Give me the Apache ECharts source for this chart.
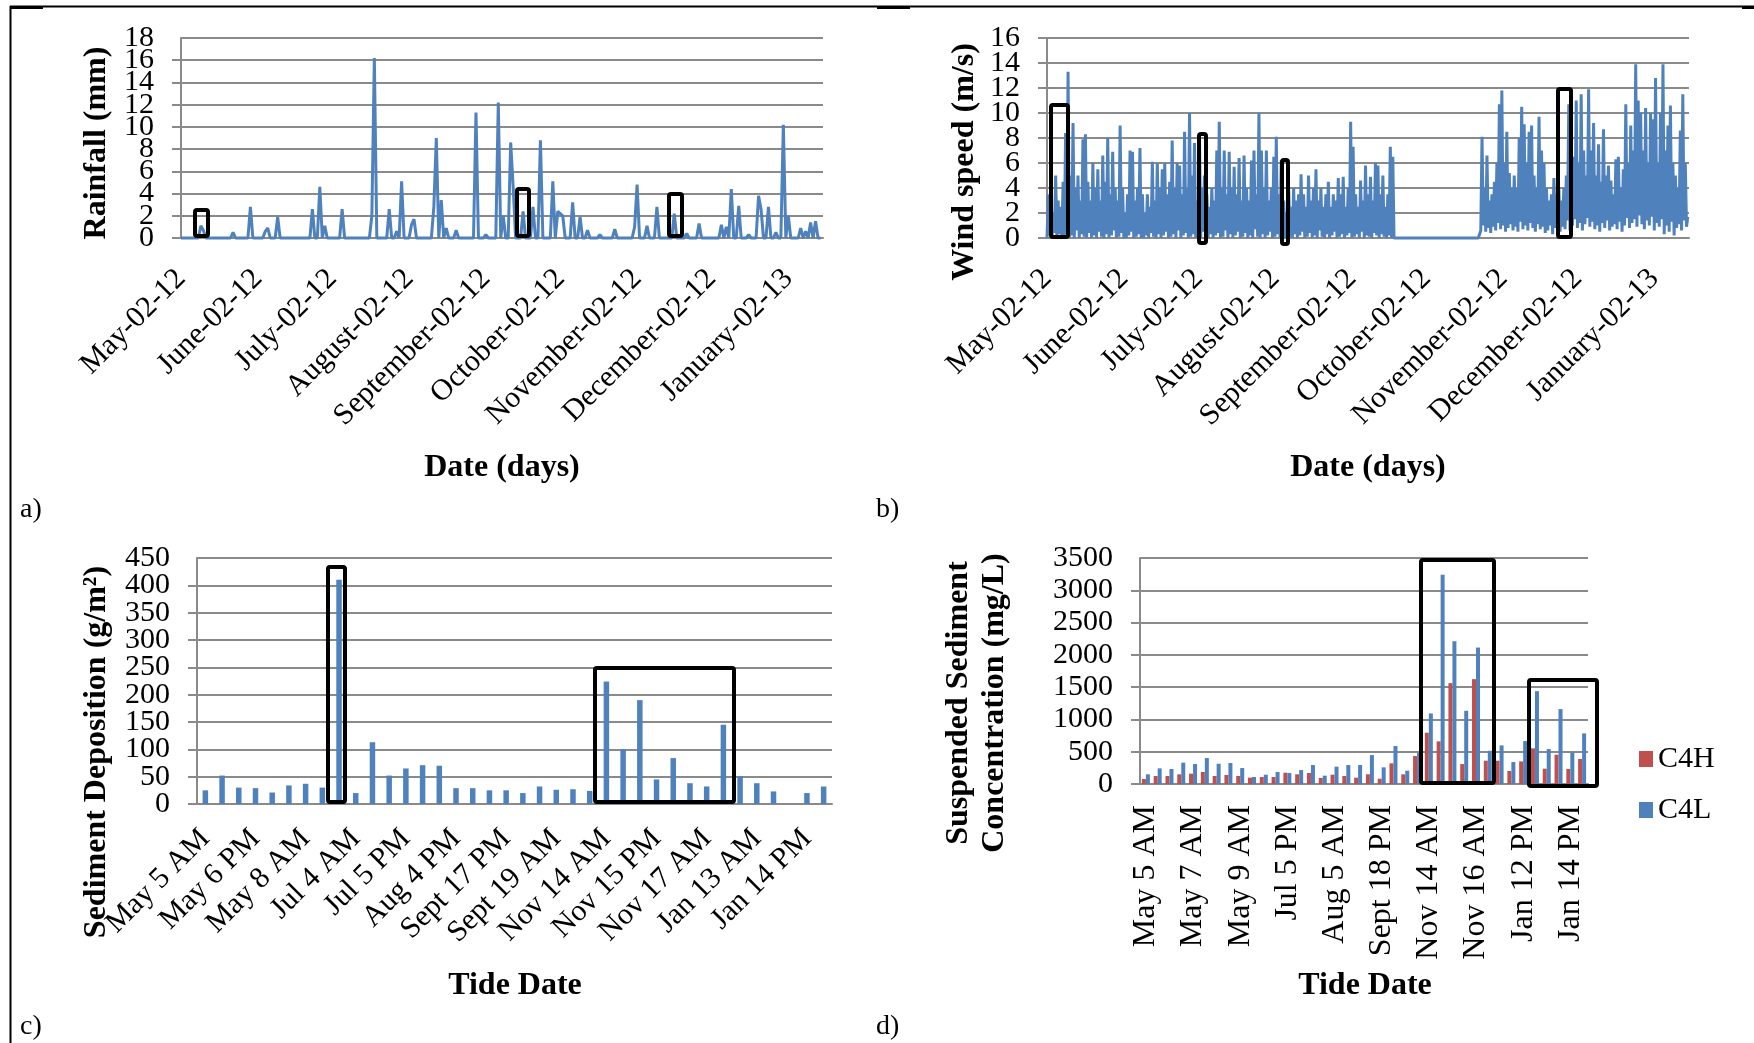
<!DOCTYPE html>
<html>
<head>
<meta charset="utf-8">
<script src="https://cdn.jsdelivr.net/npm/echarts@6/dist/echarts.min.js"></script>
<style>
  html, body { margin: 0; padding: 0; background: #fff; }
  #main { width: 1754px; height: 1043px; }
</style>
</head>
<body>
<div id="main"></div>
<script>
// panel a: daily rainfall, days counted from May-02-12
const DAYS = 259;
const monthTicks = [0, 31, 61, 92, 123, 153, 184, 214, 245];
const monthNames = ['May-02-12', 'June-02-12', 'July-02-12', 'August-02-12', 'September-02-12',
  'October-02-12', 'November-02-12', 'December-02-12', 'January-02-13'];

const rainDays = [8, 9, 21, 28, 34, 35, 39, 53, 56, 58, 65, 77, 78, 84, 87, 89, 93, 94, 102, 103,
  105, 107, 111, 119, 123, 128, 130, 133, 134, 138, 142, 145, 150, 152, 153, 154, 158, 161, 164, 169,
  175, 183, 184, 188, 192, 199, 204, 209, 218, 220, 222, 225, 229, 233, 234, 237, 240, 243, 245, 250,
  252, 254, 256];
const rainMm = [1.1, 0.7, 0.5, 2.8, 0.6, 0.9, 1.9, 2.6, 4.6, 1.1, 2.6, 2.0, 16.2, 2.6, 0.6, 5.1, 1.2, 1.7, 2.8, 9.0,
  3.4, 0.9, 0.7, 11.3, 0.3, 12.2, 2.0, 8.6, 4.6, 2.4, 2.8, 8.8, 5.1, 2.4, 2.2, 2.0, 3.2, 1.9, 0.7, 0.3,
  0.8, 1.0, 4.8, 1.1, 2.8, 2.2, 0.4, 1.3, 1.2, 1.0, 4.4, 2.9, 0.3, 3.8, 2.6, 2.8, 0.5, 10.2, 2.0, 0.9,
  0.6, 1.4, 1.5];

// panel b: daily highest and lowest wind speed (m/s)
const windHi = [
  3.5, 4, 2, 5.0, 3, 2.5, 4.5, 8.4, 13.3, 5,
  9.2, 4, 5, 3, 7.9, 8.3, 4.5, 3, 6, 4,
  5.5, 3, 6.6, 4.5, 8.0, 3.5, 6.9, 4, 3, 9.0,
  4, 2, 3.5, 7.0, 6.9, 3, 4, 7.2, 3.5, 2,
  3.5, 2.5, 6.1, 3, 6, 4, 5.5, 6.0, 3.5, 4.5,
  7.8, 4, 6, 5.8, 3.5, 8.5, 4, 10.0, 5, 7.6,
  3, 8.3, 4, 5, 3.5, 2.5, 4, 3, 7.0, 9.3,
  4, 7.0, 3.5, 6.9, 4, 5.7, 3.5, 6.4, 3, 6.6,
  4, 3, 6.2, 7.0, 3.5, 10.0, 7.0, 4, 7.0, 3,
  4, 6.5, 8.1, 3.5, 6.2, 3, 2, 4, 2.5, 4,
  3, 3.5, 5.1, 3.5, 2.5, 5, 3, 4, 5.5, 3,
  4, 2.5, 3.5, 4.5, 2.5, 3.5, 3, 4.8, 3.5, 4.9,
  2.5, 4, 9.3, 7.3, 3.5, 2.5, 4.6, 3, 5.8, 3.5,
  4.9, 3, 6.0, 5.8, 3.5, 5, 2.5, 3.5, 7.3, 6.5,
  0, 0, 0, 0, 0, 0, 0, 0, 0, 0,
  0, 0, 0, 0, 0, 0, 0, 0, 0, 0,
  0, 0, 0, 0, 0, 0, 0, 0, 0, 0,
  0, 0, 0, 0, 0, 8.1, 4, 6.6, 3, 3.5,
  4.5, 6.0, 10.7, 11.8, 6, 8.5, 5.2, 4, 5, 4,
  8.0, 10.5, 9.1, 6, 8.5, 9.0, 5, 4, 9.7, 7,
  6, 4, 3, 3.5, 4.8, 3.5, 4, 3, 4, 5,
  10.7, 4.5, 6.5, 11.0, 6, 11.5, 7, 5, 11.9, 7,
  9.2, 5, 7.5, 4.5, 8.7, 5, 5.8, 4.6, 3.5, 6.3,
  6.5, 4, 5.5, 10.7, 6, 9, 7, 13.9, 11.0, 10,
  7, 10.4, 6, 10.0, 9.5, 12.8, 6, 10, 13.9, 7,
  9.0, 10.6, 6, 5, 4, 8.6, 11.5, 6.0, 1.7
];
const windLo = [
  0, 0.2, 0, 0.4, 0, 0.3, 0.1, 0, 0.5, 0,
  0.2, 0, 0.6, 0, 0.3, 0.1, 0, 0.4, 0, 0.2,
  0, 0.5, 0.1, 0, 0.3, 0, 0.2, 0.6, 0, 0.1,
  0.4, 0, 0, 0.2, 0.5, 0, 0.1, 0.3, 0, 0,
  0.2, 0, 0.4, 0.1, 0, 0.3, 0, 0.2, 0.5, 0,
  0.1, 0.3, 0, 0.6, 0, 0.2, 0.4, 0, 0.1, 0.3,
  0, 0.2, 0, 0.5, 0.1, 0, 0.3, 0, 0.2, 0.4,
  0, 0.1, 0.6, 0, 0.3, 0, 0.2, 0.5, 0, 0.1,
  0.4, 0, 0.2, 0, 0.7, 0.1, 0, 0.3, 0, 0.2,
  0.5, 0, 0.1, 0.3, 0, 0.2, 0, 0.4, 0.1, 0,
  0.3, 0, 0.2, 0.5, 0, 0.1, 0.4, 0, 0.2, 0,
  0.6, 0.1, 0, 0.3, 0, 0.2, 0.5, 0, 0.1, 0.3,
  0, 0.2, 0.4, 0, 0.1, 0.3, 0, 0.5, 0, 0.2,
  0.1, 0, 0.4, 0.2, 0, 0.3, 0.1, 0, 0.2, 0,
  0, 0, 0, 0, 0, 0, 0, 0, 0, 0,
  0, 0, 0, 0, 0, 0, 0, 0, 0, 0,
  0, 0, 0, 0, 0, 0, 0, 0, 0, 0,
  0, 0, 0, 0, 0, 0.6, 1.0, 0.5, 0.8, 0.4,
  0.9, 0.6, 1.2, 0.7, 1.0, 0.5, 0.8, 1.1, 0.6, 0.9,
  0.5, 1.3, 0.7, 1.0, 0.6, 1.2, 0.8, 0.5, 1.1, 0.7,
  0.9, 0.4, 0.6, 1.0, 0.3, 0.8, 1.2, 0.5, 0.9, 0.7,
  1.4, 0.6, 1.0, 1.5, 0.8, 1.2, 0.6, 1.1, 1.6, 0.9,
  1.3, 0.7, 1.0, 0.5, 1.2, 0.8, 1.4, 0.6, 0.9, 1.1,
  0.7, 1.3, 0.5, 1.0, 1.6, 0.8, 1.2, 1.5, 0.9, 1.8,
  1.1, 0.7, 1.4, 1.0, 1.7, 0.6, 1.2, 0.9, 1.5, 0.3,
  1.0, 0.5, 1.3, 0.2, 0.8, 1.1, 0.6, 1.4, 0.9
];

// panels c and d: tide samples
const tides = ['May 5 AM', 'May 5 PM', 'May 6 AM', 'May 6 PM', 'May 7 AM', 'May 7 PM', 'May 8 AM', 'May 8 PM',
  'May 9 AM', 'Jul 4 AM', 'Jul 4 PM', 'Jul 5 AM', 'Jul 5 PM', 'Aug 3 PM', 'Aug 4 AM', 'Aug 4 PM',
  'Aug 5 AM', 'Sept 17 AM', 'Sept 17 PM', 'Sept 18 AM', 'Sept 18 PM', 'Sept 19 AM', 'Sept 19 PM', 'Nov 13 PM',
  'Nov 14 AM', 'Nov 14 PM', 'Nov 15 AM', 'Nov 15 PM', 'Nov 16 AM', 'Nov 16 PM', 'Nov 17 AM', 'Nov 17 PM',
  'Jan 12 PM', 'Jan 13 AM', 'Jan 13 PM', 'Jan 14 AM', 'Jan 14 PM', 'Jan 15 AM'];
const deposition = [25, 52, 30, 29, 21, 34, 37, 30, 410, 20, 113, 52, 65, 71, 70, 29, 29, 25, 25, 20,
  32, 26, 27, 24, 224, 100, 190, 45, 84, 38, 32, 145, 51, 38, 23, 0, 20, 32];
const c4h = [77, 124, 124, 150, 160, 186, 124, 139, 124, 98, 108, 108, 175, 150, 170, 93, 144, 124, 98, 150,
  82, 320, 150, 433, 794, 660, 1562, 309, 1624, 361, 361, 201, 350, 552, 237, 454, 232, 387];
const c4l = [150, 242, 232, 330, 309, 402, 314, 325, 247, 108, 144, 186, 170, 216, 294, 129, 268, 294, 294, 448,
  258, 588, 206, 480, 1093, 3242, 2211, 1134, 2113, 515, 598, 340, 665, 1438, 541, 1160, 485, 784];

// y scales: [max, interval] per panel
const yScales = [[18, 2], [16, 2], [450, 50], [3500, 500]];

// black highlight boxes drawn over the figure: [x0, y0, x1, y1] in pixels
const boxes = [
  [193, 208, 210, 238], [515, 187, 531, 238], [667, 192, 684, 238],
  [1049, 103, 1070, 239], [1197, 132, 1208, 245], [1280, 158, 1290, 246], [1556, 87, 1573, 239],
  [326, 565, 347, 804], [593, 666, 736, 804],
  [1419, 558, 1496, 785], [1527, 678, 1599, 788]
];

const BLUE = '#4F81BD';
const RED = '#C0504D';
const GRID = '#8a8a8a';
const FONT = '"Liberation Serif", "Times New Roman", serif';

const rainSeries = [];
for (let i = 0; i < DAYS; i++) rainSeries.push([i, 0]);
rainDays.forEach((d, k) => { rainSeries[d][1] = rainMm[k]; });

const windSeries = [];
windHi.forEach((hi, d) => {
  windSeries.push([d, windLo[d]], [d + 0.5, hi]);
});

const labelStyle = { color: '#000', fontFamily: FONT, fontSize: 30 };

// The tick labels sit closer than their height, so the labels of each panel are split
// over two stacked axes (even and odd steps) to keep ECharts from dropping any of them.
function valueY(gridIndex, max, interval, parity) {
  const maxEven = Math.round(max / interval) % 2 === 0;
  const main = parity === 0;
  return {
    type: 'value', gridIndex, min: 0, max, interval, position: 'left', offset: 0,
    axisLine: { show: main, lineStyle: { color: GRID, width: 2 } },
    axisTick: { show: main, length: 9, lineStyle: { color: GRID, width: 2 } },
    splitLine: { show: main, lineStyle: { color: GRID, width: 2 } },
    axisLabel: Object.assign({
      margin: 27,
      showMinLabel: main,
      showMaxLabel: main ? maxEven : !maxEven,
      hideOverlap: false,
      formatter: (v) => (Math.round(v / interval) % 2 === parity ? String(v) : '')
    }, labelStyle)
  };
}

function dateX(gridIndex) {
  return {
    type: 'value', gridIndex, min: 0, max: DAYS,
    axisLine: { show: true, onZero: false, lineStyle: { color: GRID, width: 2 } },
    axisTick: { show: false },
    splitLine: { show: false },
    axisLabel: Object.assign({
      customValues: monthTicks,
      rotate: 45, margin: 36, hideOverlap: false,
      formatter: (v) => monthNames[monthTicks.indexOf(v)] || ''
    }, labelStyle)
  };
}

function tideX(gridIndex, interval, rotate, margin, size) {
  return {
    type: 'category', gridIndex, data: tides,
    axisLine: { show: true, lineStyle: { color: GRID, width: 2 } },
    axisTick: { show: false },
    axisLabel: Object.assign({ interval, rotate, margin, hideOverlap: false }, labelStyle, { fontSize: size })
  };
}

function title(text, x, y, rotated) {
  return {
    type: 'text', x, y, rotation: rotated ? Math.PI / 2 : 0, z: 10,
    style: {
      text, fill: '#000', fontFamily: FONT, fontSize: 32, fontWeight: 'bold',
      align: 'center', verticalAlign: 'middle', lineHeight: 36
    }
  };
}

function panelTag(text, x, y) {
  return {
    type: 'text', x, y, z: 10,
    style: { text, fill: '#000', fontFamily: FONT, fontSize: 28, align: 'left', verticalAlign: 'middle' }
  };
}

const graphics = [
  title('Rainfall (mm)', 97, 143, true),
  title('Wind speed (m/s)', 965, 162, true),
  title('Sediment Deposition (g/m²)', 97, 752, true),
  title('Suspended Sediment\nConcentration (mg/L)', 977, 703, true),
  title('Date (days)', 502, 468, false),
  title('Date (days)', 1368, 468, false),
  title('Tide Date', 515, 986, false),
  title('Tide Date', 1365, 986, false),
  panelTag('a)', 20, 510),
  panelTag('b)', 876, 510),
  panelTag('c)', 20, 1027),
  panelTag('d)', 876, 1027),
  // table borders
  { type: 'line', shape: { x1: 10.5, y1: 6, x2: 10.5, y2: 1043 }, style: { stroke: '#000', lineWidth: 2 } },
  { type: 'line', shape: { x1: 10, y1: 6.5, x2: 1754, y2: 6.5 }, style: { stroke: '#000', lineWidth: 2 } },
  { type: 'line', shape: { x1: 10, y1: 7.5, x2: 43, y2: 7.5 }, style: { stroke: '#000', lineWidth: 3 } },
  { type: 'line', shape: { x1: 877, y1: 7.5, x2: 910, y2: 7.5 }, style: { stroke: '#000', lineWidth: 3 } },
  { type: 'line', shape: { x1: 1742, y1: 7.5, x2: 1754, y2: 7.5 }, style: { stroke: '#000', lineWidth: 3 } }
];
boxes.forEach(([x0, y0, x1, y1]) => {
  graphics.push({
    type: 'rect', z: 20,
    shape: { x: x0 + 2, y: y0 + 2, width: x1 - x0 - 4, height: y1 - y0 - 4, r: 2 },
    style: { fill: 'none', stroke: '#000', lineWidth: 4 }
  });
});

const yAxes = [];
[0, 1].forEach((parity) => {
  yScales.forEach(([max, interval], g) => yAxes.push(valueY(g, max, interval, parity)));
});

const option = {
  backgroundColor: '#fff',
  animation: false,
  grid: [
    { left: 181, top: 38, width: 642, height: 200, containLabel: false, outerBoundsMode: 'none' },
    { left: 1047, top: 38, width: 642, height: 200, containLabel: false, outerBoundsMode: 'none' },
    { left: 197, top: 558, width: 635, height: 246, containLabel: false, outerBoundsMode: 'none' },
    { left: 1140, top: 558, width: 448, height: 226, containLabel: false, outerBoundsMode: 'none' }
  ],
  xAxis: [
    dateX(0),
    dateX(1),
    tideX(2, 2, 45, 30, 30),
    tideX(3, 3, 90, 21, 32)
  ],
  yAxis: yAxes,
  legend: {
    data: ['C4H', 'C4L'],
    orient: 'vertical',
    left: 1634, top: 739,
    icon: 'rect', itemWidth: 14, itemHeight: 16, itemGap: 21,
    textStyle: { color: '#000', fontFamily: FONT, fontSize: 30, lineHeight: 30, padding: [0, 0, 0, 0] }
  },
  series: [
    {
      name: 'Rainfall', type: 'line', xAxisIndex: 0, yAxisIndex: 0,
      data: rainSeries, symbol: 'none', clip: false,
      lineStyle: { color: BLUE, width: 3 }, itemStyle: { color: BLUE }
    },
    {
      name: 'Wind', type: 'line', xAxisIndex: 1, yAxisIndex: 1,
      data: windSeries, symbol: 'none', clip: false,
      lineStyle: { color: BLUE, width: 3 }, itemStyle: { color: BLUE }
    },
    {
      name: 'Deposition', type: 'bar', xAxisIndex: 2, yAxisIndex: 2,
      data: deposition, barWidth: 5.5, itemStyle: { color: BLUE }
    },
    {
      name: 'C4H', type: 'bar', xAxisIndex: 3, yAxisIndex: 3,
      data: c4h, barWidth: 4, barGap: '0%', itemStyle: { color: RED }
    },
    {
      name: 'C4L', type: 'bar', xAxisIndex: 3, yAxisIndex: 3,
      data: c4l, barWidth: 4, barGap: '0%', itemStyle: { color: BLUE }
    }
  ],
  graphic: graphics
};

const chart = echarts.init(document.getElementById('main'));
chart.setOption(option);
window.addEventListener('resize', function () {
  chart.resize();
});
</script>
</body>
</html>
